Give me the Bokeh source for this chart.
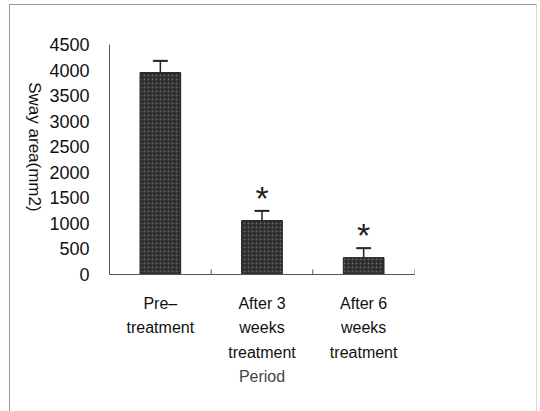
import math
from bokeh.plotting import figure
from bokeh.models import ColumnDataSource, FactorRange, Range1d, LinearAxis, FixedTicker
from bokeh.core.properties import value
from bokeh.embed import file_html
from bokeh.resources import INLINE

categories = ["Pre\u2013\ntreatment", "After 3\nweeks\ntreatment", "After 6\nweeks\ntreatment"]
means = [3950, 1055, 330]
errors = [230, 190, 185]
marks = ["", "*", "*"]
y_ticks = [0, 500, 1000, 1500, 2000, 2500, 3000, 3500, 4000, 4500]
y_title = "Sway area(mm2)"
x_title = "Period"

FONT = "Liberation Sans"
Y_TITLE_ANCHOR = 1230  # lower end of the rotated y title, in axis units

tops = [m + e for m, e in zip(means, errors)]
src = ColumnDataSource(dict(x=categories, top=means, err_top=tops, mark=marks))

p = figure(width=528, height=407, output_backend="svg", toolbar_location=None,
           x_range=FactorRange(*categories), y_range=Range1d(0, 4500),
           min_border_left=99, min_border_right=124, min_border_top=39, min_border_bottom=138,
           styles={"border-left": "1px solid #9a9a9a", "border-top": "1px solid #9a9a9a",
                   "border-right": "1px solid #d8d8d8",
                   "margin-left": "9px", "margin-top": "4px"})
p.outline_line_color = None
p.grid.grid_line_color = None
p.background_fill_color = "white"

p.vbar(x="x", top="top", bottom=0, width=0.4, source=src, fill_color="#2e2e2e",
       line_color="#222222", line_width=1, hatch_pattern="dot", hatch_color="#666666",
       hatch_scale=4, hatch_weight=1)
p.segment(x0="x", x1="x", y0="top", y1="err_top", source=src, line_color="#222222", line_width=1.5)
p.rect(x="x", y="err_top", width=0.14, height=1, height_units="screen", source=src,
       fill_color="#222222", line_color="#222222", line_width=1)
p.text(x="x", y="err_top", text="mark", source=src, text_align="center",
       text_baseline="alphabetic", y_offset=-13, text_font_size="34px",
       text_font=value(FONT), text_color="#222222")

# category boundary ticks
bx = [(c, -0.5) for c in categories] + [(categories[-1], 0.5)]
p.rect(x=bx, y=[0] * len(bx), width=1, width_units="screen", height=10, height_units="screen",
       fill_color="#555555", line_color=None)

yl = p.yaxis[0]
yl.ticker = y_ticks
yl.major_tick_line_color = None
yl.minor_tick_line_color = None
yl.axis_line_color = "#555555"
yl.major_label_text_font = FONT
yl.major_label_text_font_size = "18px"
yl.major_label_text_color = "#111111"
yl.major_label_standoff = 14

p.xaxis.major_tick_line_color = None
p.xaxis.axis_line_color = "#555555"
p.xaxis.major_label_text_font = FONT
p.xaxis.major_label_text_font_size = "16px"
p.xaxis.major_label_text_line_height = 1.45
p.xaxis.major_label_text_color = "#111111"
p.xaxis.major_label_standoff = 14
p.xaxis.axis_label = x_title
p.xaxis.axis_label_text_font = FONT
p.xaxis.axis_label_text_font_style = "normal"
p.xaxis.axis_label_text_font_size = "16px"
p.xaxis.axis_label_standoff = 4

# y title, reading top-to-bottom, drawn as the single label of an extra left axis
ax2 = LinearAxis(ticker=FixedTicker(ticks=[Y_TITLE_ANCHOR]),
                 major_label_overrides={Y_TITLE_ANCHOR: y_title},
                 major_label_orientation=-math.pi / 2,
                 axis_line_color=None, major_tick_line_color=None, minor_tick_line_color=None,
                 major_label_text_font=FONT, major_label_text_font_size="17px",
                 major_label_text_color="#111111", major_label_standoff=6)
p.add_layout(ax2, "left")

open("out.html", "w").write(file_html(p, INLINE))
